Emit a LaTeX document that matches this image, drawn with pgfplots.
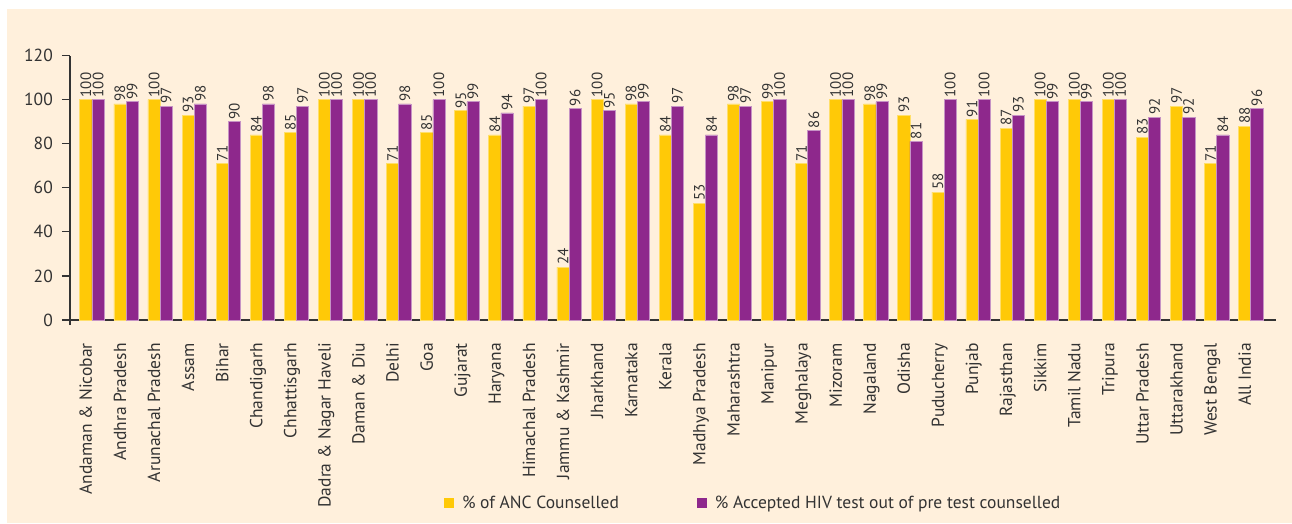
\documentclass[border=0pt]{standalone}
\usepackage{fontspec}
\setmainfont{PT Sans}
\usepackage{pgfplots}
\pgfplotsset{compat=1.18}
\usepackage{pgfplotstable}
\definecolor{bg}{HTML}{FFF0DC}
\definecolor{ancy}{HTML}{FFC907}
\definecolor{hivp}{HTML}{8E288C}
\definecolor{txt}{HTML}{333333}

\pgfplotstableread{
idx anc hiv
0 100 100
1 98 99
2 100 97
3 93 98
4 71 90
5 84 98
6 85 97
7 100 100
8 100 100
9 71 98
10 85 100
11 95 99
12 84 94
13 97 100
14 24 96
15 100 95
16 98 99
17 84 97
18 53 84
19 98 97
20 99 100
21 71 86
22 100 100
23 98 99
24 93 81
25 58 100
26 91 100
27 87 93
28 100 99
29 100 99
30 100 100
31 83 92
32 97 92
33 71 84
34 88 96
}\data

\begin{document}
\begin{tikzpicture}[x=1pt,y=1pt]
\useasboundingbox (0pt,0pt) rectangle (1292pt,523pt);
\fill[bg] (7pt,0pt) rectangle (1292pt,514pt);
\begin{axis}[
  at={(70pt,203pt)}, anchor=south west,
  scale only axis, width=1206pt, height=264.5pt,
  ybar=0pt, bar width=12.2pt,
  xmin=-0.645, xmax=34.74, ymin=0, ymax=120,
  axis x line*=bottom, axis y line*=left,
  axis line style={-, draw=txt, line width=1.3pt},
  y axis line style={shorten <=-5pt},
  /pgf/number format/assume math mode=true,
  xtick={0,...,34},
  xticklabels={Andaman \& Nicobar, Andhra Pradesh, Arunachal Pradesh, Assam, Bihar, Chandigarh, Chhattisgarh, Dadra \& Nagar Haveli, Daman \& Diu, Delhi, Goa, Gujarat, Haryana, Himachal Pradesh, Jammu \& Kashmir, Jharkhand, Karnataka, Kerala, Madhya Pradesh, Maharashtra, Manipur, Meghalaya, Mizoram, Nagaland, Odisha, Puducherry, Punjab, Rajasthan, Sikkim, Tamil Nadu, Tripura, Uttar Pradesh, Uttarakhand, West Bengal, All India},
  x tick style={draw=none},
  xticklabel style={rotate=90, anchor=base east, inner sep=0pt, font=\fontsize{17.5}{20}\selectfont, text=txt},
  xticklabel shift=15pt,
  ytick={0,20,...,120},
  tick align=outside, major tick length=8pt,
  y tick style={draw=txt, line width=1.2pt},
  yticklabel style={font=\fontsize{17.5}{20}\selectfont, text=txt, inner sep=0pt, anchor=east, xshift=-9pt},
  nodes near coords,
  every node near coord/.append style={rotate=90, anchor=west, font=\fontsize{15}{17}\selectfont, text=txt, inner sep=2pt},
  legend style={at={(0.310,-0.692)}, anchor=west, draw=none, fill=none, inner sep=0pt, legend columns=2, font=\fontsize{17.5}{20}\selectfont, text=txt, /tikz/every even column/.append style={column sep=76pt}},
  legend image code/.code={\path[#1, draw=none] (0pt,-5pt) rectangle (10pt,5pt); \path[draw=none, fill=none] (0pt,0pt) rectangle (16pt,0.1pt);},
]
\addplot[fill=ancy, draw=ancy!60!white, line width=0.6pt] table[x=idx, y=anc] {\data};
\addplot[fill=hivp, draw=hivp!50!white, line width=0.6pt] table[x=idx, y=hiv] {\data};
\legend{\% of ANC Counselled, \% Accepted HIV test out of pre test counselled}
\end{axis}
\end{tikzpicture}
\end{document}
